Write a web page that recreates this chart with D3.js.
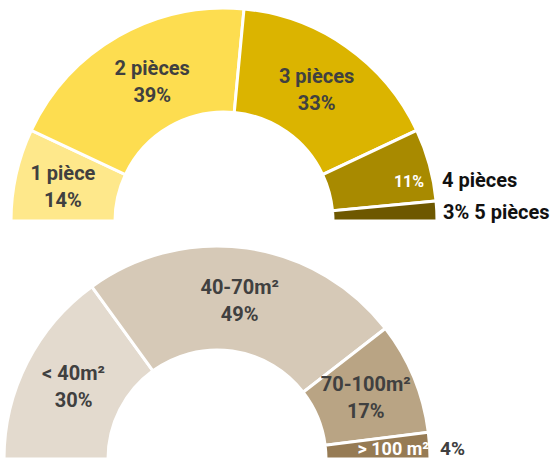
<!DOCTYPE html>
<html>
<head>
<meta charset="utf-8">
<script src="https://cdn.jsdelivr.net/npm/d3@7"></script>
<style>
  body { margin: 0; background: #fff; }
  text { font-family: Roboto, "Noto Sans", sans-serif; font-weight: 700; }
</style>
</head>
<body>
<div id="chart"></div>
<script>
// Répartition par nombre de pièces
const roomLabels = ['1 pièce', '2 pièces', '3 pièces', '4 pièces', '5 pièces'];
const roomValues = [14, 39, 33, 11, 3];
const roomColors = ['#fee88b', '#fddd50', '#dbb400', '#a88a00', '#6e5800'];

// Répartition par surface
const sizeLabels = ['< 40m²', '40-70m²', '70-100m²', '> 100 m²'];
const sizeValues = [30, 49, 17, 4];
const sizeColors = ['#e3dace', '#d6c9b7', '#b9a484', '#967b54'];

const width = 551, height = 459;
const outerR = 213, innerR = 109;

const svg = d3.select('#chart').append('svg')
    .attr('width', width)
    .attr('height', height);

const pie = d3.pie().sort(null)
    .startAngle(-Math.PI / 2)
    .endAngle(Math.PI / 2);

const arc = d3.arc().innerRadius(innerR).outerRadius(outerR);
const labelArc = d3.arc().innerRadius(161).outerRadius(161);

function label(g, x, y, txt, size, fill, anchor) {
    g.append('text')
        .attr('x', x)
        .attr('y', y)
        .attr('text-anchor', anchor || 'middle')
        .attr('font-size', size)
        .attr('fill', fill)
        .text(txt);
}

function halfDonut(cx, cy, labels, values, colors) {
    const g = svg.append('g').attr('transform', `translate(${cx},${cy})`);
    const arcs = pie(values);
    g.selectAll('path')
        .data(arcs)
        .enter().append('path')
        .attr('d', arc)
        .attr('fill', (d, i) => colors[i])
        .attr('stroke', '#fff')
        .attr('stroke-width', 3);
    return { g, arcs };
}

// top chart
const rooms = halfDonut(224, 221, roomLabels, roomValues, roomColors);
rooms.arcs.forEach((d, i) => {
    if (i > 2) return;
    const [x, y] = labelArc.centroid(d);
    const dx = i === 1 ? 8 : (i === 0 ? -4 : 0);
    label(rooms.g, x + dx, y - 6, roomLabels[i], 20, '#404040');
    label(rooms.g, x + dx, y + 21, roomValues[i] + '%', 20, '#404040');
});
label(rooms.g, 185, -34, roomValues[3] + '%', 16, '#fff');
label(rooms.g, 218, -34, roomLabels[3], 20, '#111', 'start');
label(rooms.g, 219, -2, roomValues[4] + '% ' + roomLabels[4], 20, '#111', 'start');

// bottom chart
const sizes = halfDonut(217, 459, sizeLabels, sizeValues, sizeColors);
sizes.arcs.forEach((d, i) => {
    if (i > 2) return;
    const [x, y] = labelArc.centroid(d);
    label(sizes.g, x, y - 6, sizeLabels[i], 20, '#404040');
    label(sizes.g, x, y + 21, sizeValues[i] + '%', 20, '#404040');
});
label(sizes.g, 212, -4, sizeLabels[3], 18, '#fff', 'end');
label(sizes.g, 223, -4, sizeValues[3] + '%', 19, '#404040', 'start');
</script>
</body>
</html>
